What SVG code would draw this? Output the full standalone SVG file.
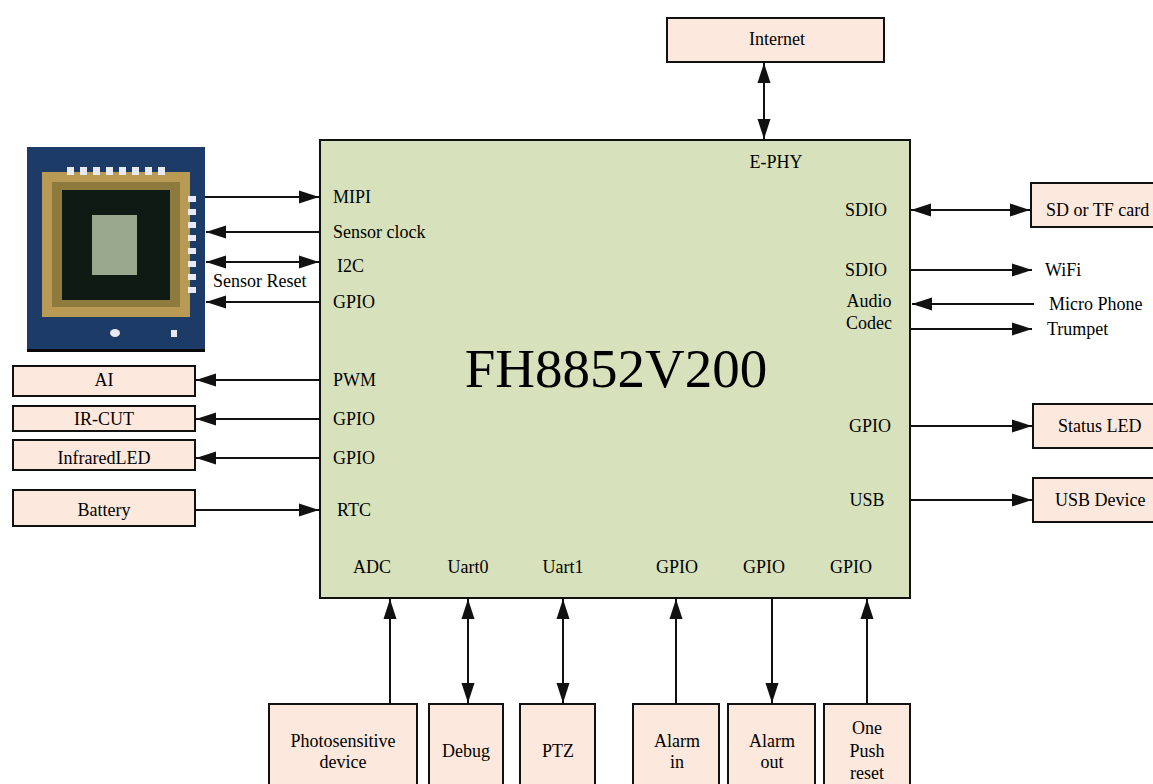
<svg xmlns="http://www.w3.org/2000/svg" width="1153" height="784" viewBox="0 0 1153 784" font-family="'Liberation Serif','Times New Roman',serif">
<style>
text{font-family:"Liberation Serif","Times New Roman",serif;font-size:18px;fill:#000}
.c{text-anchor:middle}
.box{fill:#fce8dc;stroke:#111;stroke-width:2}
.chip{fill:#d7e2bd;stroke:#111;stroke-width:2}
.ln{stroke:#111;stroke-width:2;fill:none}
</style>
<defs>
<marker id="ah" markerUnits="userSpaceOnUse" markerWidth="20" markerHeight="14" refX="20" refY="7" orient="auto-start-reverse" viewBox="0 0 20 14">
<path d="M0,0.5 L20,7 L0,13.5 z" fill="#111"/>
</marker>
</defs>
<rect width="1153" height="784" fill="#fff"/>

<g id="sensor">
<rect x="27" y="147" width="178" height="205" fill="#1c3b66"/>
<rect x="27" y="349" width="178" height="3" fill="#0a0a0a"/>
<rect x="42" y="172" width="148" height="145" fill="#b99a55"/>
<rect x="52" y="182" width="128" height="125" fill="#8f7a3e"/>
<rect x="62" y="190" width="108" height="110" fill="#101a14"/>
<rect x="92" y="215" width="45" height="60" fill="#9aa98e"/>
<g fill="#e8e8f0">
<rect x="67" y="167" width="7" height="8"/><rect x="80" y="167" width="7" height="8"/><rect x="93" y="167" width="7" height="8"/><rect x="106" y="167" width="7" height="8"/><rect x="119" y="167" width="7" height="8"/><rect x="132" y="167" width="7" height="8"/><rect x="145" y="167" width="7" height="8"/><rect x="158" y="167" width="7" height="8"/>
<rect x="188" y="196" width="8" height="6"/><rect x="188" y="209" width="8" height="6"/><rect x="188" y="222" width="8" height="6"/><rect x="188" y="235" width="8" height="6"/><rect x="188" y="248" width="8" height="6"/><rect x="188" y="261" width="8" height="6"/><rect x="188" y="274" width="8" height="6"/><rect x="188" y="287" width="8" height="6"/>
<ellipse cx="115" cy="333" rx="5" ry="4"/><rect x="171" y="330" width="6" height="7"/>
</g>
</g>

<g id="chip">
<rect class="chip" x="320" y="140" width="590" height="458"/>
<text class="c" x="616" y="387" style="font-size:55px">FH8852V200</text>
<text class="c" x="776" y="168">E-PHY</text>
<text x="333" y="203">MIPI</text>
<text x="333" y="238">Sensor clock</text>
<text x="337" y="272">I2C</text>
<text x="333" y="308">GPIO</text>
<text x="333" y="386">PWM</text>
<text x="333" y="425">GPIO</text>
<text x="333" y="464">GPIO</text>
<text x="337" y="516">RTC</text>
<text class="c" x="866" y="216">SDIO</text>
<text class="c" x="866" y="276">SDIO</text>
<text class="c" x="869" y="307">Audio</text>
<text class="c" x="869" y="329">Codec</text>
<text class="c" x="870" y="432">GPIO</text>
<text class="c" x="867" y="506">USB</text>
<text class="c" x="372" y="573">ADC</text>
<text class="c" x="468" y="573">Uart0</text>
<text class="c" x="563" y="573">Uart1</text>
<text class="c" x="677" y="573">GPIO</text>
<text class="c" x="764" y="573">GPIO</text>
<text class="c" x="851" y="573">GPIO</text>
</g>

<g id="internet"><rect class="box" x="667" y="18" width="217" height="44"/><text class="c" x="777" y="45">Internet</text></g>
<g id="ai"><rect class="box" x="13" y="366" width="182" height="30"/><text class="c" x="104" y="386">AI</text></g>
<g id="ircut"><rect class="box" x="13" y="406" width="182" height="25"/><text class="c" x="104" y="425">IR-CUT</text></g>
<g id="infraredled"><rect class="box" x="13" y="440" width="182" height="30"/><text class="c" x="104" y="464">InfraredLED</text></g>
<g id="battery"><rect class="box" x="13" y="490" width="182" height="36"/><text class="c" x="104" y="516">Battery</text></g>
<g id="sdcard"><rect class="box" x="1031" y="183" width="130" height="44"/><text x="1046" y="216">SD or TF card</text></g>
<g id="statusled"><rect class="box" x="1033" y="404" width="130" height="44"/><text x="1058" y="432">Status LED</text></g>
<g id="usbdevice"><rect class="box" x="1033" y="478" width="130" height="44"/><text x="1055" y="506">USB Device</text></g>
<g id="photosensitive"><rect class="box" x="269" y="704" width="148" height="90"/><text class="c" x="343" y="747">Photosensitive</text><text class="c" x="343" y="768">device</text></g>
<g id="debug"><rect class="box" x="429" y="704" width="74" height="90"/><text class="c" x="466" y="757">Debug</text></g>
<g id="ptz"><rect class="box" x="520" y="704" width="75" height="90"/><text class="c" x="558" y="757">PTZ</text></g>
<g id="alarmin"><rect class="box" x="633" y="704" width="86" height="90"/><text class="c" x="677" y="747">Alarm</text><text class="c" x="677" y="768">in</text></g>
<g id="alarmout"><rect class="box" x="728" y="704" width="87" height="90"/><text class="c" x="772" y="747">Alarm</text><text class="c" x="772" y="768">out</text></g>
<g id="onepush"><rect class="box" x="824" y="704" width="86" height="90"/><text class="c" x="867" y="734">One</text><text class="c" x="867" y="757">Push</text><text class="c" x="867" y="779">reset</text></g>

<g id="labels">
<text x="213" y="287">Sensor Reset</text>
<text x="1045" y="276">WiFi</text>
<text x="1049" y="310">Micro Phone</text>
<text x="1047" y="335">Trumpet</text>
</g>

<g id="connectors">
<line class="ln" x1="764" y1="63" x2="764" y2="139" marker-start="url(#ah)" marker-end="url(#ah)"/>
<line class="ln" x1="205" y1="197" x2="319" y2="197" marker-end="url(#ah)"/>
<line class="ln" x1="320" y1="232" x2="206" y2="232" marker-end="url(#ah)"/>
<line class="ln" x1="206" y1="262" x2="319" y2="262" marker-start="url(#ah)" marker-end="url(#ah)"/>
<line class="ln" x1="320" y1="302" x2="206" y2="302" marker-end="url(#ah)"/>
<line class="ln" x1="320" y1="380" x2="196" y2="380" marker-end="url(#ah)"/>
<line class="ln" x1="320" y1="419" x2="196" y2="419" marker-end="url(#ah)"/>
<line class="ln" x1="320" y1="458" x2="196" y2="458" marker-end="url(#ah)"/>
<line class="ln" x1="195" y1="510" x2="319" y2="510" marker-end="url(#ah)"/>
<line class="ln" x1="911" y1="210" x2="1030" y2="210" marker-start="url(#ah)" marker-end="url(#ah)"/>
<line class="ln" x1="910" y1="270" x2="1032" y2="270" marker-end="url(#ah)"/>
<line class="ln" x1="1034" y1="304" x2="912" y2="304" marker-end="url(#ah)"/>
<line class="ln" x1="910" y1="329" x2="1032" y2="329" marker-end="url(#ah)"/>
<line class="ln" x1="910" y1="426" x2="1032" y2="426" marker-end="url(#ah)"/>
<line class="ln" x1="910" y1="500" x2="1032" y2="500" marker-end="url(#ah)"/>
<line class="ln" x1="390" y1="704" x2="390" y2="599" marker-end="url(#ah)"/>
<line class="ln" x1="468" y1="599" x2="468" y2="703" marker-start="url(#ah)" marker-end="url(#ah)"/>
<line class="ln" x1="563" y1="599" x2="563" y2="703" marker-start="url(#ah)" marker-end="url(#ah)"/>
<line class="ln" x1="676" y1="704" x2="676" y2="599" marker-end="url(#ah)"/>
<line class="ln" x1="772" y1="598" x2="772" y2="703" marker-end="url(#ah)"/>
<line class="ln" x1="867" y1="704" x2="867" y2="599" marker-end="url(#ah)"/>
</g>
</svg>
